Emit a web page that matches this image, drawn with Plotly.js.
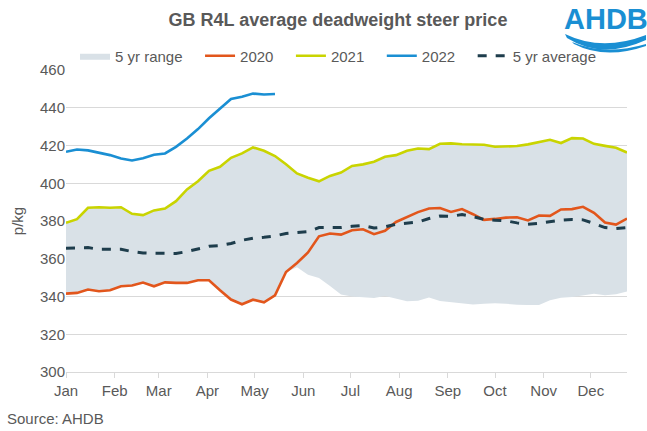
<!DOCTYPE html>
<html><head><meta charset="utf-8">
<script src="https://cdn.plot.ly/plotly-3.0.1.min.js"></script>
<style>html,body{margin:0;padding:0;background:#fff}#chart{width:647px;height:431px}</style>
</head><body><div id="chart"></div>
<script>
// Weekly series (52 weeks, starting 1 Jan)
const monthLabels = ['Jan','Feb','Mar','Apr','May','Jun','Jul','Aug','Sep','Oct','Nov','Dec'];
const y2020 = [341.5,341.9,343.7,342.8,343.3,345.4,345.8,347.4,345.4,347.5,347.2,347.2,348.6,348.6,343.3,338.4,335.9,338.3,336.9,340.6,353.0,357.8,363.3,371.9,373.4,372.8,375.1,375.6,373.0,374.8,379.5,382.2,384.7,386.6,386.9,384.8,386.3,383.6,380.6,381.1,381.8,382.0,380.3,382.9,382.7,386.1,386.3,387.5,384.3,379.2,378.1,381.3];
const y2021 = [379,381,387,387.3,387,387.3,383.8,383.1,385.6,386.6,390.5,396.7,401.1,406.6,408.7,413.5,415.8,419.0,417.2,414.4,410.1,405.2,402.9,401.0,403.9,405.7,409.2,410.0,411.4,414.0,414.9,417.2,418.4,418.1,420.9,421.1,420.7,420.7,420.4,419.3,419.3,419.7,420.6,421.6,423.0,421.3,423.9,423.7,420.9,419.8,418.8,416.3];
const y2022 = [416.7,417.9,417.4,416.1,414.9,413.1,412.1,413.3,415.1,415.8,419.3,423.7,428.7,434.4,439.3,444.6,445.8,447.5,447.0,447.3];
const avg5 = [365.6,365.9,365.9,365.0,365.2,365.0,363.8,363.1,362.9,362.8,362.8,363.8,365.4,366.6,367.0,368.1,369.8,370.9,371.4,372.1,373.4,373.9,374.4,376.5,376.3,376.5,377.2,377.6,376.3,376.9,378.3,379.0,379.4,381.3,382.6,382.5,383.4,382.4,380.8,380.4,380.1,379.0,378.3,378.8,379.7,380.4,380.8,380.6,378.7,376.5,376.0,376.5];
const rangeMin = [341.5,341.9,343.7,342.8,343.3,345.4,345.8,347.4,345.4,347.5,347.2,347.2,348.6,348.6,343.3,338.4,335.9,338.3,336.9,340.6,353.0,355.5,351.5,349.8,345.5,341.0,340.0,339.5,339.2,340.3,338.9,337.5,337.7,339.5,337.6,337.0,336.5,335.7,336.1,336.4,336.2,335.6,335.5,335.5,338.0,339.4,339.7,340.6,341.4,340.6,341.2,342.6];
const rangeMax = [379,381,387,387.3,387,387.3,383.8,383.1,385.6,386.6,390.5,396.7,401.1,406.6,408.7,413.5,415.8,419.0,417.2,414.4,410.1,405.2,402.9,401.0,403.9,405.7,409.2,410.0,411.4,414.0,414.9,417.2,418.4,418.1,420.9,421.1,420.7,420.7,420.4,419.3,419.3,419.7,420.6,421.6,423.0,421.3,423.9,423.7,420.9,419.8,418.8,416.3];

const weeks = [];
for (let i = 0; i < 52; i++) {
  weeks.push(new Date(Date.UTC(2022, 0, 1 + 7 * i)).toISOString().slice(0, 10));
}
const monthTicks = monthLabels.map((m, k) => new Date(Date.UTC(2022, k, 1)).toISOString().slice(0, 10));

const FONT = 'Liberation Sans, Arial, sans-serif';
const GREY = '#595959';
const FS = 15;
const PAD = '&nbsp;&nbsp;&nbsp;';

const traces = [
  {x: weeks, y: rangeMin, type: 'scatter', mode: 'lines', line: {width: 0, color: '#d9e1e7'}, showlegend: false, hoverinfo: 'skip'},
  {x: weeks, y: rangeMax, type: 'scatter', mode: 'lines', name: '5 yr range' + PAD, fill: 'tonexty', fillcolor: '#d9e1e7', line: {width: 0, color: '#d9e1e7'}},
  {x: weeks, y: y2020, type: 'scatter', mode: 'lines', name: '2020' + PAD, line: {color: '#e2561c', width: 2.6}},
  {x: weeks, y: y2021, type: 'scatter', mode: 'lines', name: '2021' + PAD, line: {color: '#c9d400', width: 2.6}},
  {x: weeks.slice(0, y2022.length), y: y2022, type: 'scatter', mode: 'lines', name: '2022' + PAD, line: {color: '#1a8fd3', width: 2.6}},
  {x: weeks, y: avg5, type: 'scatter', mode: 'lines', name: '5 yr average', line: {color: '#1e3d4c', width: 3, dash: 'dash'}}
];

// pixel -> paper helpers for decorations
const L = 66, R = 627, T = 70, B = 371.6;
const px = x => (x - L) / (R - L);
const py = y => (B - y) / (B - T);
const P = (x, y) => px(x).toFixed(4) + ',' + py(y).toFixed(4);

const layout = {
  width: 647, height: 431,
  margin: {l: L, r: 647 - R, t: T, b: 431 - B},
  paper_bgcolor: '#fff', plot_bgcolor: '#fff',
  font: {family: FONT, color: GREY, size: FS},
  title: {text: 'GB R4L average deadweight steer price', font: {family: FONT, size: 18, color: GREY, weight: 'bold'},
          xref: 'container', x: 338 / 647, xanchor: 'center', yref: 'container', y: 1 - 20 / 431, yanchor: 'middle'},
  xaxis: {type: 'date', range: ['2022-01-01', '2022-12-24'], tickvals: monthTicks, ticktext: monthLabels,
          ticks: 'outside', ticklen: 5, tickcolor: '#d9d9d9', showgrid: false, showline: true, linecolor: '#d9d9d9',
          tickfont: {size: FS, color: GREY, family: FONT}, fixedrange: true},
  yaxis: {range: [300, 460], dtick: 20, tick0: 300, gridcolor: '#d9d9d9', zeroline: false, showline: false,
          tickfont: {size: FS, color: GREY, family: FONT},
          title: {text: 'p/kg', font: {size: FS, color: GREY, family: FONT}, standoff: 12}},
  legend: {orientation: 'h', x: px(75), xanchor: 'left', y: py(56), yanchor: 'middle', font: {size: FS, color: GREY, family: FONT}, traceorder: 'normal', bgcolor: 'rgba(0,0,0,0)'},
  annotations: [
    {text: 'Source: AHDB', xref: 'paper', yref: 'paper', x: px(5), y: py(418), xanchor: 'left', yanchor: 'middle', showarrow: false, font: {size: FS, color: GREY, family: FONT}},
    {text: '<b>AHDB</b>', xref: 'paper', yref: 'paper', x: px(606), y: py(19), xanchor: 'center', yanchor: 'middle', showarrow: false, font: {size: 29, color: '#1a8fd3', family: 'Liberation Sans Narrow, Liberation Sans, Arial, sans-serif'}}
  ],
  shapes: [
    {type: 'path', xref: 'paper', yref: 'paper', fillcolor: '#1a8fd3', line: {width: 0},
     path: 'M ' + P(565, 34) + ' Q ' + P(602, 52) + ' ' + P(646, 35) + ' L ' + P(646, 40) + ' Q ' + P(602, 60) + ' ' + P(567, 38) + ' Z'},
    {type: 'path', xref: 'paper', yref: 'paper', fillcolor: '#1a8fd3', line: {width: 0},
     path: 'M ' + P(572, 42) + ' Q ' + P(605, 56) + ' ' + P(646, 44) + ' L ' + P(646, 46) + ' Q ' + P(605, 60) + ' ' + P(574, 44) + ' Z'}
  ],
  showlegend: true
};

Plotly.newPlot('chart', traces, layout, {displayModeBar: false, staticPlot: true});
</script>
</body></html>
